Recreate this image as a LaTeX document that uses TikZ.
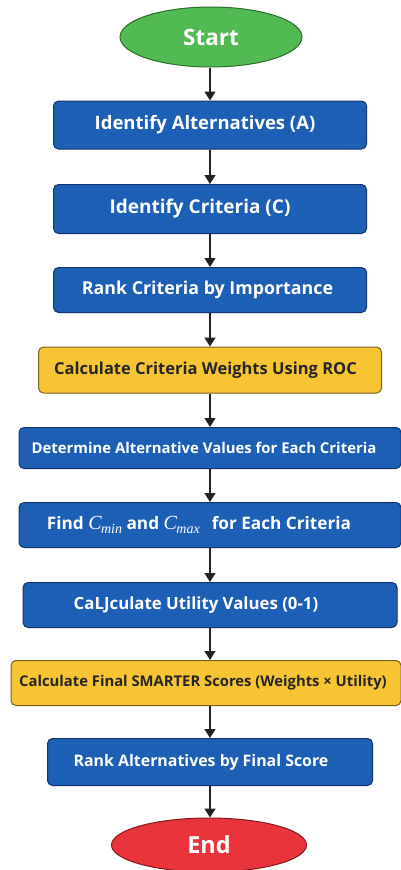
\documentclass[tikz,border=0pt]{standalone}
\usepackage{amsmath, amssymb}
\usepackage{fontspec}
\setmainfont{Open Sans}
\newfontfamily\cserif{Liberation Serif}
\usetikzlibrary{shapes.geometric, arrows.meta}

\definecolor{boxblue}{RGB}{30,95,182}
\definecolor{boxblueline}{RGB}{16,52,110}
\definecolor{boxyellow}{RGB}{247,196,52}
\definecolor{boxyellowline}{RGB}{120,95,30}
\definecolor{termgreen}{RGB}{82,186,82}
\definecolor{termgreenline}{RGB}{40,110,40}
\definecolor{termred}{RGB}{232,52,58}
\definecolor{termredline}{RGB}{130,25,28}
\definecolor{arrowgray}{RGB}{34,34,34}

\newcommand{\fsz}[1]{\bfseries\fontsize{#1}{#1}\selectfont}
% C with a subscript, serif italic
\newcommand{\cvar}[1]{{\cserif\mdseries\itshape\fontsize{20}{20}\selectfont C\kern-0.5pt\raisebox{-4.5pt}{\fontsize{14}{14}\selectfont #1}}}

\tikzset{
  bluebox/.style={draw=boxblueline, fill=boxblue, text=white, rounded corners=5pt,
    line width=1pt, inner sep=0pt},
  yellowbox/.style={bluebox, draw=boxyellowline, fill=boxyellow, text=black!85},
  termnode/.style={ellipse, line width=1pt, inner sep=0pt, text=white},
  flowarrow/.style={line width=1.4pt, draw=arrowgray,
    -{Triangle[length=9pt, width=11pt, fill=arrowgray]}}
}

\begin{document}
\begin{tikzpicture}[x=1pt, y=-1pt]
        % page frame, same size as the reference
        \useasboundingbox (0,0) rectangle (401,870);
        \clip (0,0) rectangle (401,870);
        % terminals
        \node[termnode, draw=termgreenline, fill=termgreen, minimum width=182pt, minimum height=60pt,
          font=\fsz{22.5}] (start) at (211,37) {Start};
        \node[termnode, draw=termredline, fill=termred, minimum width=195pt, minimum height=54pt,
          font=\fsz{23.5}] (end) at (209,845) {End};
        % steps, top to bottom (trailing space moves the text a bit to the left)
        \node[bluebox, minimum width=313pt, minimum height=48pt, font=\fsz{18.5}]
          (alts) at (210,125) {Identify Alternatives (A)\hspace*{10pt}};
        \node[bluebox, minimum width=313pt, minimum height=49pt, font=\fsz{19}]
          (crit) at (210,209) {Identify Criteria (C)\hspace*{20pt}};
        \node[bluebox, minimum width=313pt, minimum height=45pt, font=\fsz{17.8}]
          (rank) at (210,290) {Rank Criteria by Importance\hspace*{5pt}};
        \node[yellowbox, minimum width=343pt, minimum height=46pt, font=\fsz{16.5}]
          (roc) at (210,370) {Calculate Criteria Weights Using ROC\hspace*{9pt}};
        \node[bluebox, minimum width=382pt, minimum height=41pt, font=\fsz{14.9}]
          (values) at (210,448) {Determine Alternative Values for Each Criteria\hspace*{12pt}};
        \node[bluebox, minimum width=382pt, minimum height=45pt, font=\fsz{17.2}]
          (minmax) at (210,525) {Find \cvar{min} and \cvar{max}\hspace{12pt}for Each Criteria\hspace*{22pt}};
        \node[bluebox, minimum width=374pt, minimum height=45pt, font=\fsz{16.8}]
          (util) at (210,605) {CaLJculate Utility Values (0-1)\hspace*{28pt}};
        \node[yellowbox, minimum width=390pt, minimum height=45pt, font=\fsz{14.8}]
          (final) at (206,683) {Calculate Final SMARTER Scores (Weights × Utility)\hspace*{6pt}};
        \node[bluebox, minimum width=325pt, minimum height=47pt, font=\fsz{15.9}]
          (rankalt) at (210,762) {Rank Alternatives by Final Score\hspace*{18pt}};
        % connectors
        \foreach \a/\b in {start/alts, alts/crit, crit/rank, rank/roc, roc/values,
                           values/minmax, minmax/util, util/final, final/rankalt, rankalt/end}
          \draw[flowarrow] (\a.south -| 210,0) -- (\b.north -| 210,0);
      \end{tikzpicture}
\end{document}
